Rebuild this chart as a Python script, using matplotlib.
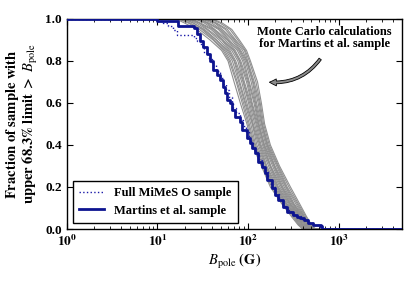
import numpy as np
import matplotlib
matplotlib.use("Agg")
import matplotlib.pyplot as plt
from matplotlib.ticker import FixedLocator, LogLocator, NullFormatter

# ==========================================
# DATA
# ==========================================
# Martins et al. sample: B where the curve drops, fraction after the drop
martins_B = [1, 10, 17, 25, 27.4, 29.5, 31.9, 35.3, 38.1, 41.1, 45.4, 49.4, 53, 56,
             58.7, 63.5, 66.6, 72, 81.8, 86, 98, 106, 111, 120, 130, 143, 155, 163,
             185, 200, 216, 245, 270, 316, 350, 378, 409, 452, 526, 630, 660, 5000]
martins_frac = [1.0, 0.99, 0.965, 0.955, 0.93, 0.895, 0.867, 0.833, 0.80, 0.757, 0.733,
                0.71, 0.676, 0.648, 0.614, 0.60, 0.567, 0.533, 0.51, 0.471, 0.433, 0.41,
                0.386, 0.362, 0.319, 0.295, 0.267, 0.233, 0.195, 0.162, 0.138, 0.105,
                0.081, 0.067, 0.057, 0.052, 0.043, 0.029, 0.019, 0.014, 0.0, 0.0]

# Full MiMeS O sample
mimes_B = [1, 10, 11.5, 13, 15, 16.5, 25, 27.4, 30, 33, 37, 40, 44, 49, 53, 57, 61, 66,
           68, 74, 82, 88, 95, 102, 108, 114, 122, 132, 143, 153, 165, 180, 200, 220,
           245, 270, 300, 330, 380, 420, 460, 520, 600, 650, 5000]
mimes_frac = [1.0, 0.99, 0.98, 0.965, 0.945, 0.924, 0.91, 0.895, 0.87, 0.84, 0.81, 0.78,
              0.75, 0.72, 0.69, 0.66, 0.63, 0.60, 0.575, 0.55, 0.52, 0.49, 0.46, 0.43,
              0.41, 0.385, 0.36, 0.33, 0.30, 0.27, 0.24, 0.20, 0.165, 0.14, 0.11, 0.09,
              0.07, 0.06, 0.05, 0.04, 0.03, 0.02, 0.01, 0.0, 0.0]

# Monte Carlo realisations: B at which each curve reaches these fractions
mc_frac = [1.0, 0.98, 0.95, 0.90, 0.85, 0.80, 0.70, 0.60, 0.50, 0.40, 0.30, 0.20,
           0.12, 0.06, 0.02, 0.0]
mc_runs = [
    [16, 20, 27, 38, 51, 60, 70, 82, 97, 111, 140, 176, 235, 300, 355, 398],
    [17, 22, 29, 41, 53, 62, 74, 86, 100, 115, 143, 182, 240, 310, 362, 410],
    [18, 23, 31, 42, 55, 64, 76, 89, 103, 118, 146, 188, 245, 318, 370, 418],
    [19, 25, 32, 44, 57, 67, 79, 92, 107, 121, 151, 192, 252, 322, 381, 430],
    [20, 25, 33, 45, 59, 70, 81, 94, 111, 125, 156, 195, 260, 328, 392, 442],
    [21, 27, 35, 48, 61, 71, 85, 97, 112, 130, 158, 202, 264, 338, 398, 447],
    [22, 29, 36, 51, 63, 73, 88, 101, 114, 134, 161, 208, 268, 347, 402, 452],
    [23, 29, 39, 52, 66, 77, 89, 104, 118, 136, 168, 212, 277, 352, 412, 460],
    [24, 30, 41, 53, 69, 80, 91, 107, 122, 139, 174, 216, 285, 358, 423, 468],
    [26, 33, 42, 56, 70, 81, 96, 109, 125, 144, 176, 224, 290, 370, 428, 480],
    [27, 35, 43, 59, 72, 83, 99, 111, 128, 148, 178, 232, 294, 378, 433, 488],
    [28, 36, 47, 60, 76, 87, 101, 116, 130, 150, 186, 236, 303, 382, 444, 494],
    [29, 37, 49, 62, 79, 90, 103, 119, 132, 152, 192, 241, 312, 388, 452, 498],
    [31, 40, 50, 66, 81, 93, 108, 121, 136, 157, 195, 250, 316, 398, 456, 508],
    [33, 43, 52, 69, 83, 96, 112, 124, 140, 161, 198, 259, 322, 408, 462, 518],
    [34, 44, 56, 71, 87, 97, 114, 129, 142, 163, 206, 264, 336, 412, 472, 525],
    [35, 45, 59, 73, 91, 99, 117, 133, 144, 166, 212, 270, 348, 418, 482, 532],
    [38, 49, 63, 77, 93, 103, 122, 136, 148, 171, 216, 282, 358, 430, 490, 545],
    [40, 52, 66, 80, 96, 106, 127, 140, 152, 176, 222, 293, 370, 440, 500, 554],
]

# ==========================================
# STYLE
# ==========================================
plt.rcParams['font.family'] = ['Liberation Serif', 'DejaVu Serif']
plt.rcParams['mathtext.fontset'] = 'stix'

fig = plt.figure(figsize=(4.15, 2.91), dpi=100)
ax = fig.add_axes([0.161, 0.213, 0.808, 0.722])

for run in mc_runs:
    ax.plot([1] + run + [5000], [1.0] + mc_frac + [0.0], color='0.56', lw=0.8, zorder=1)

ax.plot(mimes_B, mimes_frac, color='#1a1aa8', lw=1.0, ls=':', drawstyle='steps-post',
        label='Full MiMeS O sample', zorder=2)
ax.plot(martins_B, martins_frac, color='#0d1490', lw=2.0, drawstyle='steps-post',
        label='Martins et al. sample', zorder=3)

ax.set_xscale('log')
ax.set_xlim(1, 5000)
ax.set_ylim(0, 1.0)

ax.xaxis.set_major_locator(FixedLocator([1, 10, 100, 1000]))
ax.set_xticklabels([r'$\mathbf{10^{0}}$', r'$\mathbf{10^{1}}$',
                    r'$\mathbf{10^{2}}$', r'$\mathbf{10^{3}}$'])
ax.xaxis.set_minor_locator(LogLocator(base=10, subs=np.arange(2, 10)))
ax.xaxis.set_minor_formatter(NullFormatter())
ax.set_yticks([0.0, 0.2, 0.4, 0.6, 0.8, 1.0])
ax.set_yticklabels(['0.0', '0.2', '0.4', '0.6', '0.8', '1.0'], fontweight='bold')

ax.tick_params(which='both', direction='in', top=True, right=True, labelsize=9.5)
ax.tick_params(which='major', length=4, width=0.8)
ax.tick_params(which='minor', length=2, width=0.6)
for s in ax.spines.values():
    s.set_linewidth(1.0)

ax.set_xlabel(r'$B_{\rm pole}\ \mathbf{(G)}$', fontsize=10.5, labelpad=2)
ax.set_ylabel(r'$\mathbf{Fraction\ of\ sample\ with}$' + '\n'
              + r'$\mathbf{upper\ 68.3\%\ limit\ >}\ B_{\rm pole}$',
              fontsize=10.5, linespacing=1.0)

leg = ax.legend(loc='lower left', bbox_to_anchor=(0.018, 0.029), borderaxespad=0,
                fancybox=False, edgecolor='k', framealpha=1,
                prop={'size': 9, 'weight': 'bold'},
                handlelength=2.0, borderpad=0.5, labelspacing=0.45)
leg.get_frame().set_linewidth(1.0)

ax.text(700, 0.965, 'Monte Carlo calculations\nfor Martins et al. sample',
        ha='center', va='top', fontsize=9, fontweight='bold', linespacing=1.0)
ax.annotate('', xy=(160, 0.70), xytext=(650, 0.82),
            arrowprops=dict(arrowstyle='simple,head_length=0.5,head_width=0.5,tail_width=0.2',
                            connectionstyle='arc3,rad=-0.3', fc='0.55', ec='k', lw=0.6))

fig.savefig('out.png', dpi=100)
